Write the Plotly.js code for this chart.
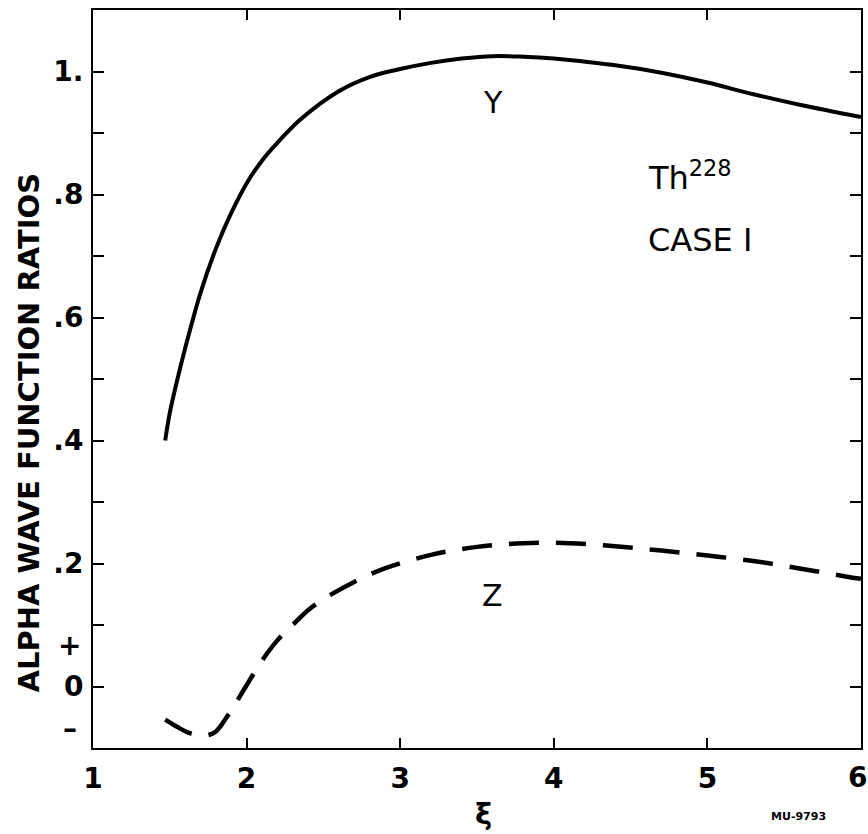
<!DOCTYPE html>
<html>
<head>
<meta charset="utf-8">
<script src="https://cdn.plot.ly/plotly-3.0.1.min.js"></script>
<style>html,body{margin:0;padding:0;background:#fff;}#chart{width:868px;height:834px;}</style>
</head>
<body>
<div id="chart"></div>
<script>
// Curve Y (solid)
const yX = [1.47, 1.5, 1.55, 1.6, 1.7, 1.8, 1.9, 2.0, 2.1, 2.2, 2.35, 2.6, 2.8, 3.0, 3.2, 3.4, 3.6, 3.8, 4.0, 4.4, 4.7, 5.0, 5.3, 5.6, 6.0];
const yVals = [0.40, 0.445, 0.50, 0.55, 0.64, 0.712, 0.77, 0.818, 0.855, 0.884, 0.922, 0.968, 0.991, 1.004, 1.014, 1.021, 1.025, 1.024, 1.021, 1.010, 0.998, 0.982, 0.963, 0.946, 0.926];
// Curve Z (dashed)
const zX = [1.47, 1.55, 1.62, 1.69, 1.75, 1.8, 1.87, 1.93, 2.0, 2.1, 2.2, 2.3, 2.4, 2.5, 2.7, 2.9, 3.2, 3.5, 3.8, 4.1, 4.4, 4.7, 5.0, 5.3, 5.6, 5.9, 6.0];
const zVals = [-0.054, -0.066, -0.075, -0.079, -0.079, -0.073, -0.05, -0.027, 0.002, 0.042, 0.075, 0.100, 0.124, 0.142, 0.170, 0.192, 0.214, 0.227, 0.233, 0.233, 0.228, 0.221, 0.213, 0.204, 0.192, 0.179, 0.175];

const xTickVals = [1, 2, 3, 4, 5, 6];
const xTickText = ['1', '2', '3', '4', '5', ''];   // "6" is drawn as an annotation so it is not cut at the edge
const lastXLabel = '6';
const yTickVals = [0, 0.1, 0.2, 0.3, 0.4, 0.5, 0.6, 0.7, 0.8, 0.9, 1.0];
const yTickText = ['0', '', '.2', '', '.4', '', '.6', '', '.8', '', '1.'];

const FONT = 'DejaVu Sans, Arial, sans-serif';
const TICKFONT = {family: FONT, size: 28, color: '#000', weight: 'bold'};

const traces = [
  {x: yX, y: yVals, mode: 'lines', line: {color: '#000', width: 4, shape: 'spline'}, hoverinfo: 'skip'},
  {x: zX, y: zVals, mode: 'lines', line: {color: '#000', width: 4.5, shape: 'spline', dash: '30px,17px'}, hoverinfo: 'skip'}
];

const layout = {
  width: 868, height: 834,
  margin: {l: 93, r: 7, t: 10, b: 86},
  paper_bgcolor: '#fff', plot_bgcolor: '#fff',
  showlegend: false,
  font: {family: FONT, color: '#000'},
  xaxis: {
    range: [1, 6], tickvals: xTickVals, ticktext: xTickText,
    ticks: 'inside', ticklen: 10, tickwidth: 2, tickcolor: '#000',
    showline: true, linewidth: 2, linecolor: '#000', mirror: 'ticks',
    showgrid: false, zeroline: false,
    tickfont: TICKFONT, ticklabeloverflow: 'allow',
    ticklabelstandoff: 4
  },
  yaxis: {
    range: [-0.1, 1.1], tickvals: yTickVals, ticktext: yTickText,
    ticks: 'inside', ticklen: 11, tickwidth: 2, tickcolor: '#000',
    showline: true, linewidth: 2, linecolor: '#000', mirror: 'ticks',
    showgrid: false, zeroline: false,
    tickfont: TICKFONT, ticklabeloverflow: 'allow',
    ticklabelstandoff: 2
  },
  annotations: [
    {text: '<b>' + lastXLabel + '</b>', xref: 'paper', yref: 'paper', x: 1, xshift: -4, y: -(777 - 748) / 738, showarrow: false, font: {family: FONT, size: 28}, xanchor: 'center', yanchor: 'middle'},
    {text: '<b>ALPHA WAVE FUNCTION RATIOS</b>', xref: 'paper', yref: 'y', x: -0.0846, y: 0.413, textangle: -90, showarrow: false, font: {family: FONT, size: 29}, xanchor: 'center', yanchor: 'middle'},
    {text: '<b>+</b>', xref: 'paper', yref: 'y', x: -0.03, y: 0.067, showarrow: false, font: {family: FONT, size: 28}, xanchor: 'center', yanchor: 'middle'},
    {text: '<b>\u2013</b>', xref: 'paper', yref: 'y', x: -0.03, y: -0.068, showarrow: false, font: {family: FONT, size: 28}, xanchor: 'center', yanchor: 'middle'},
    {text: 'Y', xref: 'x', yref: 'y', x: 3.604, y: 0.949, showarrow: false, font: {family: FONT, size: 30}},
    {text: 'Z', xref: 'x', yref: 'y', x: 3.604, y: 0.148, showarrow: false, font: {family: FONT, size: 30}},
    {text: 'Th<sup>228</sup>', xref: 'x', yref: 'y', x: 4.6, y: 0.83, showarrow: false, xanchor: 'left', font: {family: FONT, size: 32}},
    {text: 'CASE I', xref: 'x', yref: 'y', x: 4.6, y: 0.726, showarrow: false, xanchor: 'left', font: {family: FONT, size: 32}},
    {text: '<b>\u03be</b>', xref: 'paper', yref: 'paper', x: (483 - 93) / 768, y: -(833 - 748) / 738, showarrow: false, font: {family: FONT, size: 29}, yanchor: 'bottom'},
    {text: '<b>MU-9793</b>', xref: 'paper', yref: 'paper', x: 0.957, y: -(816 - 748) / 738, showarrow: false, font: {family: FONT, size: 11}, yanchor: 'middle'}
  ]
};

Plotly.newPlot('chart', traces, layout, {staticPlot: true, displayModeBar: false});
</script>
</body>
</html>
